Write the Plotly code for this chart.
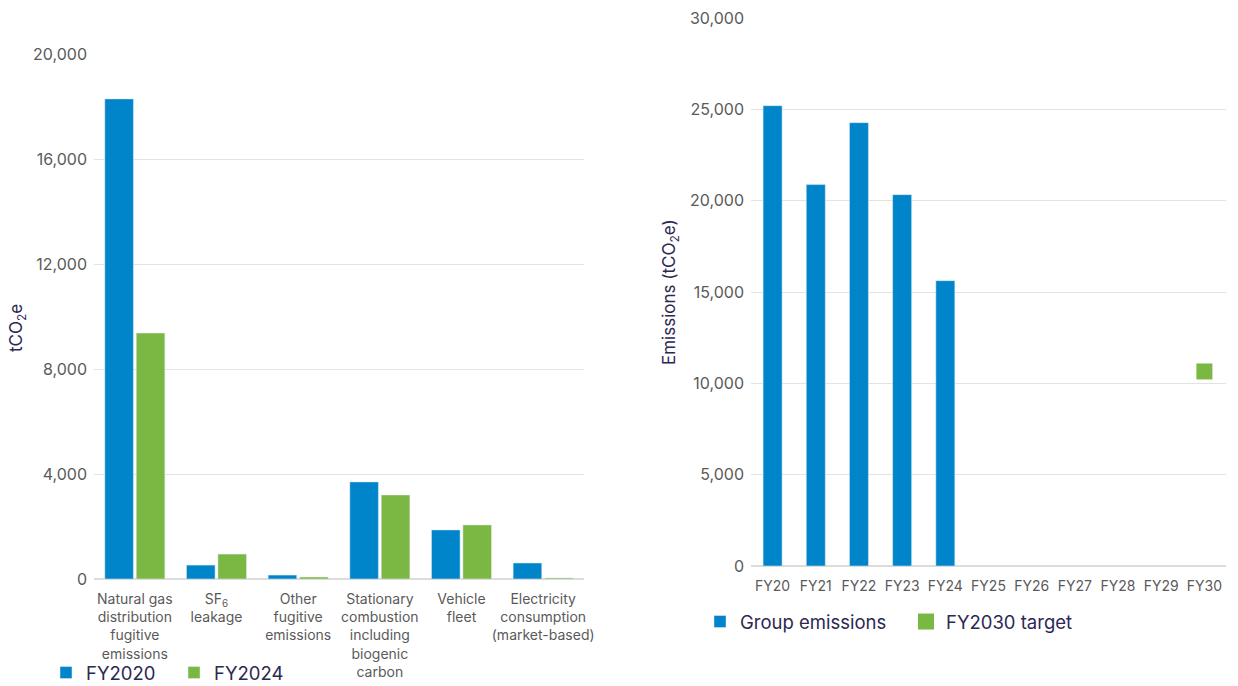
import plotly.graph_objects as go

W, H = 1238, 686
def px(x): return x / W
def py(y): return 1 - y / H

# ---- data ----
categories = [
    "Natural gas<br>distribution<br>fugitive<br>emissions",
    "SF<sub>6</sub><br>leakage",
    "Other<br>fugitive<br>emissions",
    "Stationary<br>combustion<br>including<br>biogenic<br>carbon",
    "Vehicle<br>fleet",
    "Electricity<br>consumption<br>(market-based)",
]
fy2020 = [18290, 530, 150, 3700, 1870, 610]
fy2024 = [9370, 950, 75, 3200, 2060, 40]

years = ["FY20", "FY21", "FY22", "FY23", "FY24", "FY25", "FY26", "FY27", "FY28", "FY29", "FY30"]
group_years = ["FY20", "FY21", "FY22", "FY23", "FY24"]
group_emissions = [25200, 20880, 24270, 20330, 15620]
target_year = ["FY30"]
target_value = [10650]

BLUE = "#0085CA"
GREEN = "#7AB843"
TICK = "#5a5a5a"
NAVY = "#2c2852"
GRID = "#e3e3e3"
FONT = "Inter"

fig = go.Figure()
fig.add_trace(go.Bar(x=categories, y=fy2020, name="FY2020", marker_color=BLUE,
                     xaxis="x", yaxis="y", legend="legend"))
fig.add_trace(go.Bar(x=categories, y=fy2024, name="FY2024", marker_color=GREEN,
                     xaxis="x", yaxis="y", legend="legend"))
fig.add_trace(go.Bar(x=group_years, y=group_emissions, name="Group emissions", marker_color=BLUE,
                     width=0.44, xaxis="x2", yaxis="y2", legend="legend2"))
fig.add_trace(go.Scatter(x=target_year, y=target_value, name="FY2030 target", mode="markers",
                         marker=dict(symbol="square", size=16, color=GREEN),
                         xaxis="x2", yaxis="y2", legend="legend2"))

fig.update_layout(
    width=W, height=H,
    margin=dict(l=0, r=0, t=0, b=0, autoexpand=False),
    paper_bgcolor="white", plot_bgcolor="white",
    font=dict(family=FONT, color=TICK),
    barmode="group", bargap=0.23, bargroupgap=0.09,
    xaxis=dict(domain=[px(94), px(584)], anchor="y", showgrid=False, showline=False,
               ticks="", tickfont=dict(size=14, color=TICK), tickangle=0,
               ticklabelstandoff=10),
    yaxis=dict(domain=[py(579), py(54)], anchor="x", range=[0, 20000],
               tickvals=[0, 4000, 8000, 12000, 16000, 20000], tickformat=",",
               showgrid=True, gridcolor=GRID, gridwidth=1, zeroline=True, zerolinecolor="#dcdcdc",
               zerolinewidth=2, showline=False, ticks="", ticklabelstandoff=6,
               tickfont=dict(size=16, color=TICK)),
    xaxis2=dict(domain=[px(751), px(1226)], anchor="y2", showgrid=False, showline=False,
                ticks="", categoryorder="array", categoryarray=years, range=[-0.5, 10.5],
                tickfont=dict(size=14, color=TICK), ticklabelstandoff=10),
    yaxis2=dict(domain=[py(566), py(18)], anchor="x2", range=[0, 30000],
                tickvals=[0, 5000, 10000, 15000, 20000, 25000, 30000], tickformat=",",
                showgrid=True, gridcolor=GRID, gridwidth=1, zeroline=True, zerolinecolor="#dcdcdc",
                zerolinewidth=2, showline=False, ticks="", ticklabelstandoff=6,
                tickfont=dict(size=16, color=TICK)),
    legend=dict(orientation="h", x=px(46), y=py(673), xanchor="left", yanchor="middle",
                font=dict(size=18.5, color=NAVY), entrywidth=83, entrywidthmode="pixels",
                bgcolor="rgba(0,0,0,0)", traceorder="normal"),
    legend2=dict(orientation="h", x=px(700), y=py(622), xanchor="left", yanchor="middle",
                 font=dict(size=18.5, color=NAVY), entrywidth=161, entrywidthmode="pixels",
                 bgcolor="rgba(0,0,0,0)", traceorder="normal"),
    annotations=[
        dict(text="tCO<sub>2</sub>e", x=px(18), y=py(328), xref="paper", yref="paper",
             xanchor="center", yanchor="middle",
             showarrow=False, textangle=-90, font=dict(size=17, color=NAVY)),
        dict(text="Emissions (tCO<sub>2</sub>e)", x=px(671), y=py(292), xref="paper", yref="paper",
             xanchor="center", yanchor="middle",
             showarrow=False, textangle=-90, font=dict(size=17, color=NAVY)),
    ],
    showlegend=True,
)

fig.write_html("out.html")
